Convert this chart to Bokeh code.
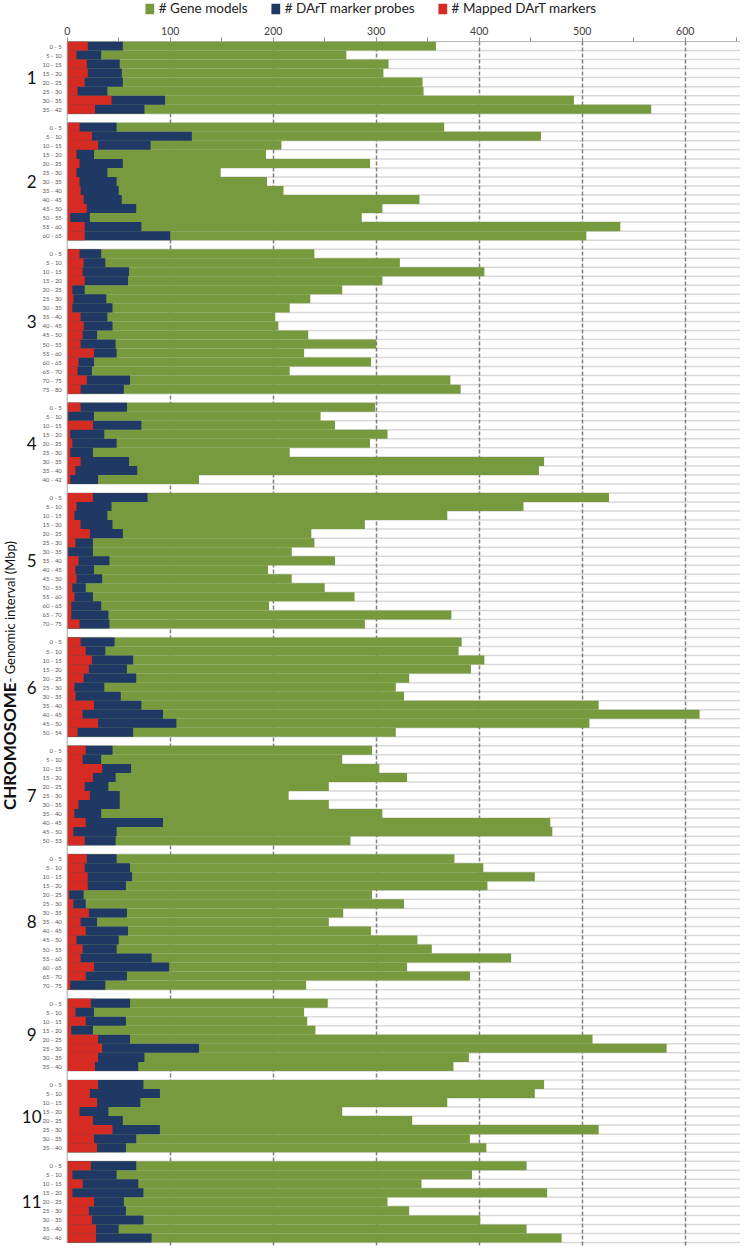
import math
from bokeh.plotting import figure
from bokeh.layouts import column
from bokeh.models import (Range1d, FixedTicker, Legend, LegendItem, ColumnDataSource)
from bokeh.core.properties import value
from bokeh.embed import file_html
from bokeh.resources import INLINE

# ---------------- data ----------------
CHROMOSOMES = ["1", "2", "3", "4", "5", "6", "7", "8", "9", "10", "11"]

INTERVALS = [
    ["0 - 5", "5 - 10", "10 - 15", "15 - 20", "20 - 25", "25 - 30", "30 - 35", "35 - 42"],
    ["0 - 5", "5 - 10", "10 - 15", "15 - 20", "20 - 25", "25 - 30", "30 - 35", "35 - 40",
     "40 - 45", "45 - 50", "50 - 55", "55 - 60", "60 - 65"],
    ["0 - 5", "5 - 10", "10 - 15", "15 - 20", "20 - 25", "25 - 30", "30 - 35", "35 - 40",
     "40 - 45", "45 - 50", "50 - 55", "55 - 60", "60 - 65", "65 - 70", "70 - 75", "75 - 80"],
    ["0 - 5", "5 - 10", "10 - 15", "15 - 20", "20 - 25", "25 - 30", "30 - 35", "35 - 40", "40 - 42"],
    ["0 - 5", "5 - 10", "10 - 15", "15 - 20", "20 - 25", "25 - 30", "30 - 35", "35 - 40",
     "40 - 45", "45 - 50", "50 - 55", "55 - 60", "60 - 65", "65 - 70", "70 - 75"],
    ["0 - 5", "5 - 10", "10 - 15", "15 - 20", "20 - 25", "25 - 30", "30 - 35", "35 - 40",
     "40 - 45", "45 - 50", "50 - 54"],
    ["0 - 5", "5 - 10", "10 - 15", "15 - 20", "20 - 25", "25 - 30", "30 - 35", "35 - 40",
     "40 - 45", "45 - 50", "50 - 53"],
    ["0 - 5", "5 - 10", "10 - 15", "15 - 20", "20 - 25", "25 - 30", "30 - 35", "35 - 40",
     "40 - 45", "45 - 50", "50 - 55", "55 - 60", "60 - 65", "65 - 70", "70 - 75"],
    ["0 - 5", "5 - 10", "10 - 15", "15 - 20", "20 - 25", "25 - 30", "30 - 35", "35 - 40"],
    ["0 - 5", "5 - 10", "10 - 15", "15 - 20", "20 - 25", "25 - 30", "30 - 35", "35 - 40"],
    ["0 - 5", "5 - 10", "10 - 15", "15 - 20", "20 - 25", "25 - 30", "30 - 35", "35 - 40", "40 - 46"],
]

GENE_MODELS = [
    [358, 271, 312, 307, 345, 346, 492, 567],
    [366, 460, 208, 193, 294, 149, 194, 210, 342, 306, 286, 537, 504],
    [240, 323, 405, 306, 267, 236, 216, 202, 205, 234, 300, 230, 295, 216, 372, 382],
    [299, 246, 260, 311, 294, 216, 463, 458, 128],
    [526, 443, 369, 289, 237, 240, 218, 260, 195, 218, 250, 279, 196, 373, 289],
    [383, 380, 405, 392, 332, 319, 327, 516, 614, 507, 319],
    [296, 267, 303, 330, 254, 215, 254, 306, 469, 471, 275],
    [376, 404, 454, 408, 296, 327, 268, 254, 295, 340, 354, 431, 330, 391, 232],
    [253, 230, 233, 241, 510, 582, 390, 375],
    [463, 454, 369, 267, 335, 516, 391, 407],
    [446, 393, 344, 466, 311, 332, 401, 446, 480],
]

DART_PROBES = [
    [54, 33, 51, 53, 54, 39, 95, 75],
    [48, 121, 81, 26, 54, 39, 48, 50, 53, 67, 22, 72, 100],
    [33, 37, 60, 59, 17, 38, 44, 39, 44, 29, 47, 48, 26, 24, 61, 55],
    [58, 26, 72, 36, 48, 25, 60, 68, 30],
    [78, 43, 39, 44, 54, 25, 25, 41, 26, 34, 18, 25, 33, 40, 41],
    [46, 37, 64, 58, 67, 36, 52, 72, 93, 106, 64],
    [44, 33, 62, 47, 40, 51, 51, 33, 93, 48, 47],
    [48, 61, 63, 57, 16, 18, 58, 29, 59, 50, 48, 82, 99, 58, 37],
    [61, 26, 57, 25, 61, 128, 75, 69],
    [74, 90, 71, 40, 54, 90, 67, 57],
    [67, 48, 69, 74, 55, 57, 74, 50, 82],
]

MAPPED_DART = [
    [20, 9, 19, 20, 17, 10, 43, 27],
    [12, 24, 30, 9, 12, 9, 12, 13, 16, 19, 3, 17, 17],
    [12, 16, 15, 17, 5, 6, 5, 13, 16, 15, 13, 26, 11, 10, 19, 13],
    [13, 1, 25, 3, 5, 3, 13, 8, 3],
    [25, 9, 7, 13, 22, 8, 1, 11, 8, 9, 5, 7, 4, 4, 12],
    [13, 18, 24, 21, 16, 7, 8, 26, 15, 30, 10],
    [18, 15, 34, 25, 17, 22, 11, 7, 18, 6, 17],
    [19, 17, 20, 20, 2, 6, 21, 13, 18, 9, 15, 13, 26, 18, 3],
    [23, 8, 18, 4, 30, 34, 30, 27],
    [30, 22, 29, 12, 25, 44, 26, 29],
    [23, 5, 15, 5, 26, 21, 24, 28, 28],
]

X_TICKS = [0, 100, 200, 300, 400, 500, 600]
X_MINOR = [50, 150, 250, 350, 450, 550, 650]
GRID_TICKS = [100, 200, 300, 400, 500, 600]

LEGEND_LABELS = ["# Gene models", "# DArT marker probes", "# Mapped DArT markers"]
Y_LABEL_BOLD = "CHROMOSOME"
Y_LABEL_REST = " - Genomic interval (Mbp)"

GREEN = "#789A3F"
BLUE = "#1F3864"
RED = "#D62B22"
FONT = "Lato"

# ---------------- layout of rows (one slot per row, one empty slot between chromosomes) ----
ys, labels, gm, dp, md = [], [], [], [], []
chrom_y = []
slot = 0
for c in range(len(CHROMOSOMES)):
    start = slot
    for j, lab in enumerate(INTERVALS[c]):
        ys.append(slot + 0.5)
        labels.append(lab)
        gm.append(GENE_MODELS[c][j])
        dp.append(DART_PROBES[c][j])
        md.append(MAPPED_DART[c][j])
        slot += 1
    chrom_y.append((start + slot) / 2.0)
    if c < len(CHROMOSOMES) - 1:
        slot += 1
n_slots = slot

src = ColumnDataSource(dict(y=ys, label=labels, gene=gm, probes=dp, mapped=md))

PX_PER_UNIT = 1.03
W = 740
LEG_H = 18
H = 1246 - LEG_H
TOP = 41 - LEG_H
x_start = -66.7 / PX_PER_UNIT
x_end = x_start + W / PX_PER_UNIT
slot_px = 9.03
frame_h = H - TOP
y_bottom = frame_h / slot_px

p = figure(width=W, height=H, output_backend="svg", toolbar_location=None,
           x_range=Range1d(x_start, x_end), y_range=Range1d(y_bottom, 0),
           x_axis_location="above", y_axis_location=None,
           min_border_left=0, min_border_right=0, min_border_bottom=0,
           min_border_top=TOP)
p.outline_line_color = None
p.background_fill_color = "white"

# axis
ax = p.xaxis[0]
ax.ticker = FixedTicker(ticks=X_TICKS, minor_ticks=X_MINOR)
ax.axis_line_color = None
ax.major_tick_out = 4
ax.major_tick_in = 0
ax.minor_tick_out = 4
ax.minor_tick_in = 0
ax.major_tick_line_color = "#8C8C8C"
ax.minor_tick_line_color = "#8C8C8C"
ax.major_label_text_font = FONT
ax.major_label_text_font_size = "10.5px"
ax.major_label_text_color = "#404040"
ax.major_label_standoff = 3

# grid
p.ygrid.visible = False
p.xgrid.ticker = FixedTicker(ticks=GRID_TICKS)
p.xgrid.grid_line_color = "#808080"
p.xgrid.grid_line_dash = "4 2"
p.xgrid.grid_line_width = 1.5

# row separators
bounds = list(range(0, n_slots + 1))
p.segment(x0=[0] * len(bounds), x1=[x_end] * len(bounds), y0=bounds, y1=bounds,
          line_color="#D9D9D9", line_width=1.5, level="image")
p.segment(x0=[0], x1=[x_end], y0=[0], y1=[0], line_color="#8C8C8C", line_width=1.2)

# bars
rg = p.hbar(y="y", left=0, right="gene", height=1.0, fill_color=GREEN, line_color=None, source=src)
rb = p.hbar(y="y", left=0, right="probes", height=1.0, fill_color=BLUE, line_color=None, source=src)
rr = p.hbar(y="y", left=0, right="mapped", height=1.0, fill_color=RED, line_color=None, source=src)

# vertical axis line at 0
p.segment(x0=[0], x1=[0], y0=[0], y1=[n_slots], line_color="#A6A6A6", line_width=1)

# row labels
p.text(x=-5.2, y="y", text="label", source=src, text_align="right", text_baseline="middle",
       text_font=value(FONT), text_font_size="6px", text_color="#595959")

# chromosome numbers
p.text(x=[-34.5] * len(CHROMOSOMES), y=chrom_y, text=CHROMOSOMES, text_align="center",
       text_baseline="middle", text_font=value(FONT), text_font_size="17px", text_color="#111111")

# rotated y label
split_y = (690 - 49) / slot_px
p.text(x=[-56], y=[split_y], text=[Y_LABEL_BOLD], angle=math.pi / 2, text_align="right",
       text_baseline="alphabetic", text_font=value(FONT), text_font_size="17px",
       text_font_style="bold", text_color="#111111")
p.text(x=[-56], y=[split_y], text=[Y_LABEL_REST], angle=math.pi / 2, text_align="left",
       text_baseline="alphabetic", text_font=value(FONT), text_font_size="13px",
       text_color="#111111")

# ---------------- legend strip (same data, bars kept out of its view) ----------------
lf = figure(width=W, height=LEG_H, output_backend="svg", toolbar_location=None,
            x_range=Range1d(-2000, -1000), y_range=Range1d(0, 1),
            x_axis_location=None, y_axis_location=None, min_border=0)
lf.outline_line_color = None
lf.xgrid.visible = False
lf.ygrid.visible = False
lg = lf.hbar(y="y", left=0, right="gene", height=1.0, fill_color=GREEN, line_color=None, source=src)
lb = lf.hbar(y="y", left=0, right="probes", height=1.0, fill_color=BLUE, line_color=None, source=src)
lr = lf.hbar(y="y", left=0, right="mapped", height=1.0, fill_color=RED, line_color=None, source=src)

legend = Legend(items=[LegendItem(label=LEGEND_LABELS[0], renderers=[lg]),
                       LegendItem(label=LEGEND_LABELS[1], renderers=[lb]),
                       LegendItem(label=LEGEND_LABELS[2], renderers=[lr])],
                orientation="horizontal", location="top_center")
legend.label_text_font = FONT
legend.label_text_font_size = "13.5px"
legend.label_text_color = "#222222"
legend.glyph_width = 11
legend.glyph_height = 13
legend.label_standoff = 4
legend.spacing = 22
legend.padding = 0
legend.margin = 0
legend.border_line_color = None
legend.background_fill_alpha = 0
lf.add_layout(legend)

layout = column(lf, p, spacing=0)
open("out.html", "w").write(file_html(layout, INLINE))
